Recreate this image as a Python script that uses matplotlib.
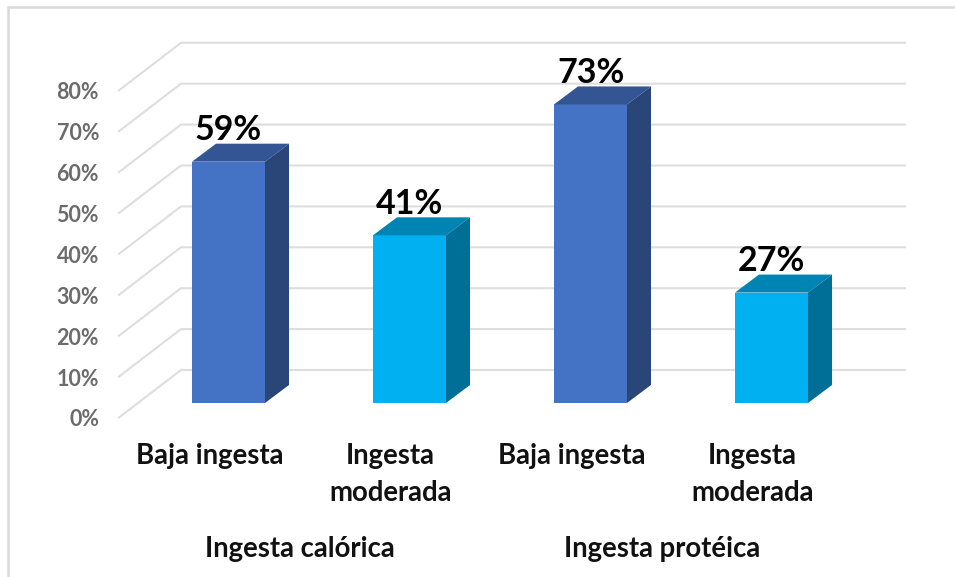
import matplotlib
matplotlib.use('Agg')
import matplotlib.pyplot as plt
from matplotlib.lines import Line2D
from matplotlib.patches import Polygon

# data
categories = ['Baja ingesta', 'Ingesta\nmoderada', 'Baja ingesta', 'Ingesta\nmoderada']
values = [59, 41, 73, 27]
groups = ['Ingesta calórica', 'Ingesta protéica']
group_pos = [0.5, 2.5]
ticks = [0, 10, 20, 30, 40, 50, 60, 70, 80]

W, H = 955, 577
# pixel scale of the chart
px_per_cat = 181.0
px_per_val = 4.09
x0_px = 228.5
y0_px = 403.0

plt.rcParams['font.family'] = ['Lato', 'DejaVu Sans']

fig = plt.figure(figsize=(W / 100, H / 100), dpi=100)
ax = fig.add_axes([0, 0, 1, 1])
ax.set_xlim(-x0_px / px_per_cat, (W - x0_px) / px_per_cat)
ax.set_ylim((y0_px - H) / px_per_val, y0_px / px_per_val)
ax.axis('off')

# depth of the 3d look, in data units
bar_width = 73 / px_per_cat
bar_dx = 24 / px_per_cat
bar_dy = 18 / px_per_val

# gridlines: front end, back corner, right end
front_x = (119 - x0_px) / px_per_cat
back_x = (181 - x0_px) / px_per_cat
end_x = (905 - x0_px) / px_per_cat
front_dy = -14.5 / px_per_val
back_dy = 33 / px_per_val
grid_color = '#dedede'

for t in ticks:
    ax.plot([front_x, back_x, end_x],
            [t * 1.0 + front_dy, t * 1.0 + back_dy, t * 1.0 + back_dy],
            color=grid_color, linewidth=1.5, zorder=1, solid_joinstyle='miter')
    ax.text(front_x - 20 / px_per_cat, t + front_dy - 0.6, '%d%%' % t, ha='right', va='center',
            fontsize=15.5, fontweight='bold', color='#6b6b6b')

colors = [('#4472C4', '#335593', '#2A4678'), ('#00B0F0', '#0084B4', '#006F98')]
# labels sit left of the bars, a bit more so on the right side
label_shift = 19 / px_per_cat

for i, v in enumerate(values):
    front, top, side = colors[i % 2]
    left = i - bar_width / 2
    right = i + bar_width / 2
    ax.bar(i, v, width=bar_width, color=front, zorder=3)
    ax.add_patch(Polygon([(left, v), (right, v), (right + bar_dx, v + bar_dy), (left + bar_dx, v + bar_dy)],
                         closed=True, facecolor=top, edgecolor='none', zorder=3))
    ax.add_patch(Polygon([(right, 0), (right + bar_dx, bar_dy), (right + bar_dx, v + bar_dy), (right, v)],
                         closed=True, facecolor=side, edgecolor='none', zorder=3))
    ax.text(i, v + 7.7, '%d%%' % v, ha='center', va='center', fontsize=24.5,
            fontweight='bold', color='black', zorder=4)
    ax.text(i - label_shift, -9.9, categories[i], ha='center', va='top', fontsize=19.8,
            fontweight='bold', color='#111111', linespacing=1.48)

for g, p in zip(groups, group_pos):
    ax.text(p - label_shift, -35.8, g, ha='center', va='center', fontsize=19.8,
            fontweight='bold', color='#111111')

# chart frame, only left and top show
fig.add_artist(Line2D([7.5 / W, 7.5 / W, 1], [0, 1 - 6.5 / H, 1 - 6.5 / H],
                      color='#d9d9d9', linewidth=1.8, solid_joinstyle='miter'))

fig.savefig('out.png', dpi=100)
